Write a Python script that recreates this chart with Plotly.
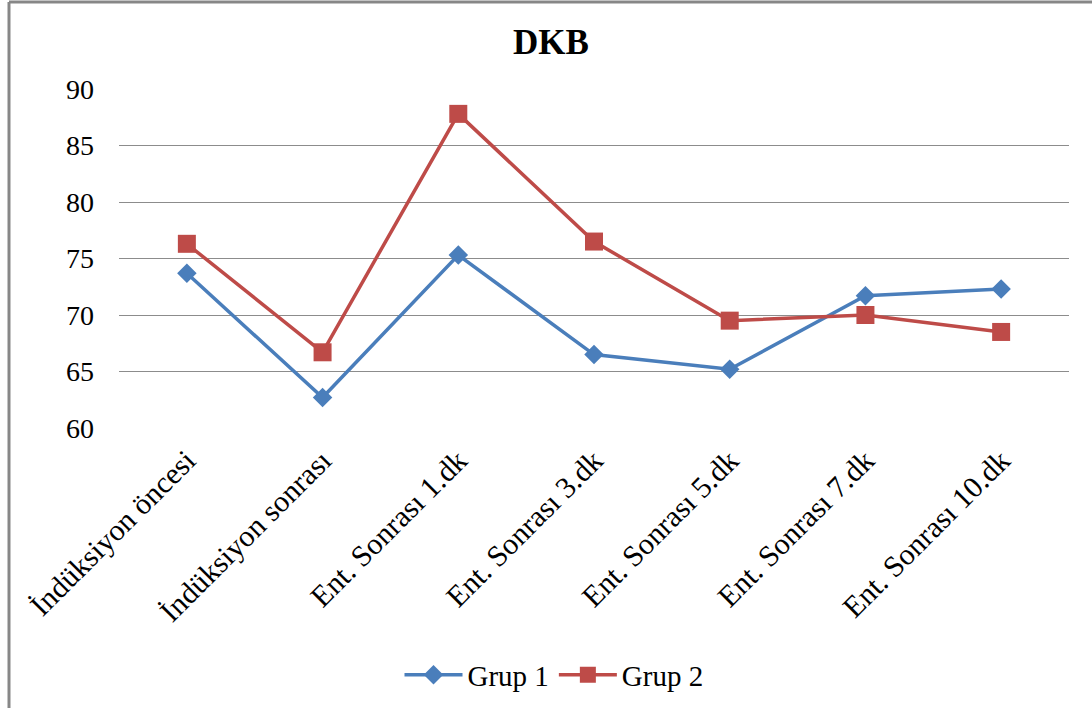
import plotly.graph_objects as go

categories = [
    "İndüksiyon öncesi",
    "İndüksiyon sonrası",
    "Ent. Sonrası 1.dk",
    "Ent. Sonrası 3.dk",
    "Ent. Sonrası 5.dk",
    "Ent. Sonrası 7.dk",
    "Ent. Sonrası 10.dk",
]
grup1 = [73.7, 62.7, 75.3, 66.5, 65.2, 71.7, 72.3]
grup2 = [76.3, 66.7, 87.8, 76.5, 69.5, 70.0, 68.5]
y_ticks = [60, 65, 70, 75, 80, 85, 90]

W, H = 1092, 708
L, R, T, B = 119, 23, 89, 280
pw, ph = W - L - R, H - T - B


def px_x(p):
    return (p - L) / pw


def px_y(p):
    return (H - B - p) / ph


font_serif = "Liberation Serif, Times New Roman, serif"

fig = go.Figure()
fig.add_trace(go.Scatter(
    x=categories, y=grup1, name="Grup 1", mode="lines+markers",
    line=dict(color="#4A7EBB", width=3.5),
    marker=dict(symbol="diamond", size=15, color="#4A7EBB"),
))
fig.add_trace(go.Scatter(
    x=categories, y=grup2, name="Grup 2", mode="lines+markers",
    line=dict(color="#BE4B48", width=3.5),
    marker=dict(symbol="square", size=18, color="#BE4B48"),
))

# outer chart frame (left and top edges)
border = dict(type="line", xref="paper", yref="paper",
              line=dict(color="#878787", width=3))
shapes = [
    dict(border, x0=px_x(9), x1=px_x(9), y0=px_y(2), y1=px_y(H + 5)),
    dict(border, x0=px_x(9), x1=px_x(W + 5), y0=px_y(2), y1=px_y(2)),
]

fig.update_layout(
    width=W, height=H,
    margin=dict(l=L, r=R, t=T, b=B, autoexpand=False),
    paper_bgcolor="white", plot_bgcolor="white",
    title=dict(text="<b>DKB</b>", x=551 / W, xref="container", xanchor="center",
               y=1 - 42 / H, yanchor="middle",
               font=dict(family=font_serif, size=35, color="black")),
    font=dict(family=font_serif, color="black"),
    showlegend=True,
    legend=dict(orientation="h", x=px_x(554), xanchor="center", xref="paper",
                y=px_y(675), yanchor="middle", yref="paper",
                font=dict(family=font_serif, size=29, color="black"),
                itemwidth=58, tracegroupgap=0),
    xaxis=dict(
        type="category", range=[-0.5, len(categories) - 0.5],
        showgrid=False, tickangle=-45,
        tickfont=dict(family=font_serif, size=30, color="black"),
        showline=False, ticks="", zeroline=False, ticklabelstandoff=8,
    ),
    yaxis=dict(
        range=[60, 90], tickvals=y_ticks, showgrid=True,
        gridcolor="#8C8C8C", gridwidth=1, zeroline=False, showline=False,
        tickfont=dict(family=font_serif, size=28, color="black"),
        ticks="", ticklabelstandoff=24,
    ),
    shapes=shapes,
    hovermode=False,
)

fig.write_html("out.html")
